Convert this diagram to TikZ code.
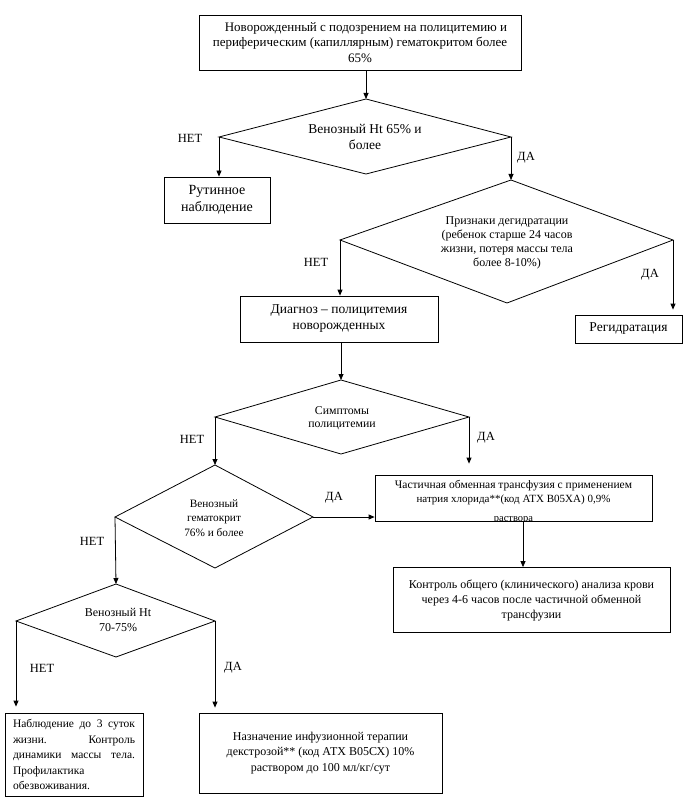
\documentclass[tikz,border=0pt]{standalone}
\usepackage{fontspec}
\setmainfont{Liberation Serif}
\usetikzlibrary{arrows.meta}
\tikzset{
  box/.style={draw, line width=0.8pt, inner sep=0pt, align=center, font=\fontsize{12}{15}\selectfont},
  dia/.style={draw, line width=0.8pt, line join=miter},
  dtext/.style={inner sep=0pt, align=center, font=\fontsize{12}{14}\selectfont},
  lbl/.style={inner sep=0pt, font=\fontsize{12.5}{14}\selectfont},
  arr/.style={-{Triangle[length=6pt,width=5pt]}, line width=0.8pt}
}
\begin{document}
\begin{tikzpicture}[x=1pt,y=-1pt]
\useasboundingbox (0,0) rectangle (683,802);
\fill[white] (0,0) rectangle (683,802);

% boxes
\node[box, minimum width=322pt, minimum height=55pt, font=\fontsize{13}{15.5}\selectfont] (b1) at (360,42.5)
  {\hspace*{12pt}Новорожденный с подозрением на полицитемию и\\периферическим (капиллярным) гематокритом более\\65\%};
\node[box, minimum width=106pt, minimum height=46pt, font=\fontsize{14}{16.5}\selectfont] (rut) at (217,200) {Рутинное\\наблюдение};
\node[box, minimum width=198pt, minimum height=46pt, font=\fontsize{13.5}{16}\selectfont] (diag) at (339,319) {Диагноз – полицитемия\\новорожденных};
\node[box, minimum width=107pt, minimum height=28pt, font=\fontsize{13.5}{16}\selectfont] (regid) at (628.5,329) {Регидратация};
\node[box, minimum width=277pt, minimum height=46pt] (chast) at (513.5,498) {};
\node[dtext, anchor=north] (chastt) at (513.5,480) {\fontsize{11.5}{14}\selectfont Частичная обменная трансфузия с применением\\\fontsize{11}{14}\selectfont натрия хлорида**(код АТХ В05ХА) 0,9\%};
\begin{scope}
  \clip (375,475) rectangle (652,521);
  \node[dtext, font=\fontsize{10.5}{12}\selectfont] (chastr) at (513.5,520) {раствора};
\end{scope}
\node[box, minimum width=277pt, minimum height=65pt, font=\fontsize{12}{15}\selectfont] (kontr) at (531.5,600)
  {Контроль общего (клинического) анализа крови\\через 4-6 часов после частичной обменной\\трансфузии};
\node[box, minimum width=138pt, minimum height=83pt, align=left, font=\fontsize{11.5}{15.5}\selectfont] (nabl) at (74,754.5)
  {\makebox[122pt][s]{Наблюдение до 3 суток}\\\makebox[122pt][s]{жизни. Контроль}\\\makebox[122pt][s]{динамики массы тела.}\\\makebox[122pt][l]{Профилактика}\\\makebox[122pt][l]{обезвоживания.}};
\node[box, minimum width=243pt, minimum height=80pt, font=\fontsize{12}{15.5}\selectfont] (nazn) at (320.5,753)
  {Назначение инфузионной терапии\\декстрозой** (код АТХ В05СХ) 10\%\\раствором до 100 мл/кг/сут};

% diamond 1
\coordinate (d1t) at (366,99); \coordinate (d1l) at (219,137);
\coordinate (d1r) at (511,137); \coordinate (d1b) at (366,174);
\draw[dia] (d1t) -- (d1r) -- (d1b) -- (d1l) -- cycle;
\node[dtext, font=\fontsize{13.5}{16}\selectfont] (d1x) at (365,137) {Венозный Ht 65\% и\\более};

% diamond 2
\coordinate (d2t) at (511,180); \coordinate (d2l) at (340,240);
\coordinate (d2r) at (673,240); \coordinate (d2b) at (507,303);
\draw[dia] (d2t) -- (d2r) -- (d2b) -- (d2l) -- cycle;
\node[dtext] (d2x) at (507,243) {Признаки дегидратации\\(ребенок старше 24 часов\\жизни, потеря массы тела\\более 8-10\%)};

% diamond 3
\coordinate (d3t) at (341,380); \coordinate (d3l) at (215,417);
\coordinate (d3r) at (469,417); \coordinate (d3b) at (341,454);
\draw[dia] (d3t) -- (d3r) -- (d3b) -- (d3l) -- cycle;
\node[dtext, font=\fontsize{11.8}{13.5}\selectfont] (d3x) at (342,418) {Симптомы\\полицитемии};

% diamond 4
\coordinate (d4t) at (215,465); \coordinate (d4l) at (115,517);
\coordinate (d4r) at (313,517); \coordinate (d4b) at (215,568);
\draw[dia] (d4t) -- (d4r) -- (d4b) -- (d4l) -- cycle;
\node[dtext, font=\fontsize{11.3}{14.5}\selectfont] (d4x) at (214,518) {Венозный\\гематокрит\\76\% и более};

% diamond 5
\coordinate (d5t) at (116,584); \coordinate (d5l) at (16,621);
\coordinate (d5r) at (215,621); \coordinate (d5b) at (116,657);
\draw[dia] (d5t) -- (d5r) -- (d5b) -- (d5l) -- cycle;
\node[dtext, font=\fontsize{12}{15}\selectfont] (d5x) at (118,620) {Венозный Ht\\70-75\%};

% connectors
\draw[arr] (b1.south -| d1t) -- (d1t);
\draw[arr] (d1l) -- (rut.north -| d1l);
\draw[arr] (d1r) -- (d2t);
\draw[arr] (d2l) -- (diag.north -| d2l);
\draw[arr, shorten >=5pt] (d2r) -- (regid.north -| d2r);
\draw[arr] (diag.south -| d3t) -- (d3t);
\draw[arr] (d3l) -- (d4t);
\draw[arr, shorten >=11pt] (d3r) -- (chast.north -| d3r);
\draw[arr] (d4r) -- (chast.west |- d4r);
\draw[arr] (d4l) -- (d5t);
\coordinate (kc) at (523,0);
\draw[arr] (chast.south -| kc) -- (kontr.north -| kc);
\draw[arr, shorten >=6pt] (d5l) -- (nabl.north -| d5l);
\draw[arr, shorten >=5pt] (d5r) -- (nazn.north -| d5r);

% labels
\node[lbl] (n1) at (190,138) {НЕТ};
\node[lbl] (y1) at (526,158) {ДА};
\node[lbl] (n2) at (316,262) {НЕТ};
\node[lbl] (y2) at (650,275) {ДА};
\node[lbl] (n3) at (192,439) {НЕТ};
\node[lbl] (y3) at (486,438) {ДА};
\node[lbl] (y4) at (334,498) {ДА};
\node[lbl] (n4) at (92,541) {НЕТ};
\node[lbl] (n5) at (42,668) {НЕТ};
\node[lbl] (y5) at (233,668) {ДА};
\end{tikzpicture}
\end{document}
